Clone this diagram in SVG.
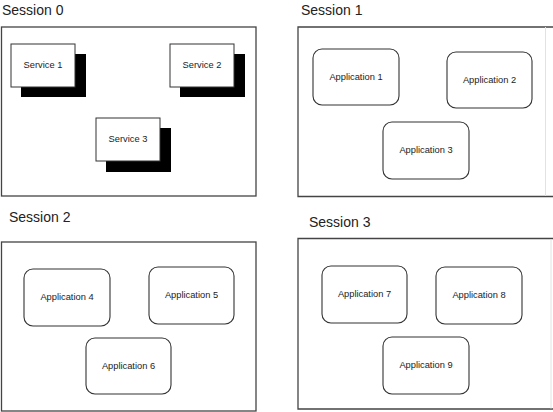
<svg xmlns="http://www.w3.org/2000/svg" width="553" height="412" viewBox="0 0 553 412">
<style>
.title{font-family:"Liberation Sans",Arial,sans-serif;font-size:14px;fill:#222}
.lbl{font-family:"Liberation Sans",Arial,sans-serif;font-size:9.3px;fill:#222;text-anchor:middle;dominant-baseline:central}
.frame{fill:#fff;stroke:#444;stroke-width:1.3}
.open{fill:none;stroke:#444;stroke-width:1.3}
.faint{fill:none;stroke:#e2e2e2;stroke-width:1}
.svc{fill:#fff;stroke:#333;stroke-width:1}
.shadow{fill:#000}
.app{fill:#fff;stroke:#333;stroke-width:1.1}
</style>
<rect width="553" height="412" fill="#fff"/>
<g id="session0">
<text class="title" x="2" y="15">Session 0</text>
<rect class="frame" x="1.5" y="27" width="254.5" height="169"/>
</g>
<g id="service1">
<rect class="shadow" x="21" y="54" width="65" height="43"/>
<rect class="svc" x="11" y="44" width="64" height="43"/>
<text class="lbl" x="43" y="65">Service 1</text>
</g>
<g id="service2">
<rect class="shadow" x="180" y="54" width="65" height="43"/>
<rect class="svc" x="170" y="44" width="64" height="43"/>
<text class="lbl" x="202" y="65">Service 2</text>
</g>
<g id="service3">
<rect class="shadow" x="106" y="128" width="65" height="44"/>
<rect class="svc" x="96" y="118" width="64" height="43"/>
<text class="lbl" x="128" y="139">Service 3</text>
</g>
<g id="session1">
<text class="title" x="301" y="15">Session 1</text>
<path class="open" d="M553 27 H298 V196.5 H553"/>
<path class="faint" d="M545.5 27 V196"/>
</g>
<g id="app1"><rect class="app" x="313" y="49" width="86" height="56" rx="9"/><text class="lbl" x="356" y="76.5">Application 1</text></g>
<g id="app2"><rect class="app" x="447" y="52" width="85" height="56" rx="9"/><text class="lbl" x="489.5" y="79.5">Application 2</text></g>
<g id="app3"><rect class="app" x="383" y="122" width="86" height="57" rx="9"/><text class="lbl" x="426" y="150">Application 3</text></g>
<g id="session2">
<text class="title" x="9" y="222">Session 2</text>
<rect class="frame" x="1.5" y="242" width="254.5" height="169"/>
</g>
<g id="app4"><rect class="app" x="24" y="269" width="86" height="57" rx="9"/><text class="lbl" x="67" y="297">Application 4</text></g>
<g id="app5"><rect class="app" x="149" y="267" width="85" height="57" rx="9"/><text class="lbl" x="191.5" y="295">Application 5</text></g>
<g id="app6"><rect class="app" x="86" y="338" width="85" height="56" rx="9"/><text class="lbl" x="128.5" y="366">Application 6</text></g>
<g id="session3">
<text class="title" x="309" y="227">Session 3</text>
<path class="open" d="M553 238.5 H298 V409 H553"/>
<path class="faint" d="M551 239 V408.5"/>
</g>
<g id="app7"><rect class="app" x="322" y="266" width="85" height="57" rx="9"/><text class="lbl" x="364.5" y="294">Application 7</text></g>
<g id="app8"><rect class="app" x="436" y="267" width="86" height="57" rx="9"/><text class="lbl" x="479" y="295">Application 8</text></g>
<g id="app9"><rect class="app" x="383" y="337" width="86" height="57" rx="9"/><text class="lbl" x="426" y="365">Application 9</text></g>
<g id="connectors"></g>
</svg>
